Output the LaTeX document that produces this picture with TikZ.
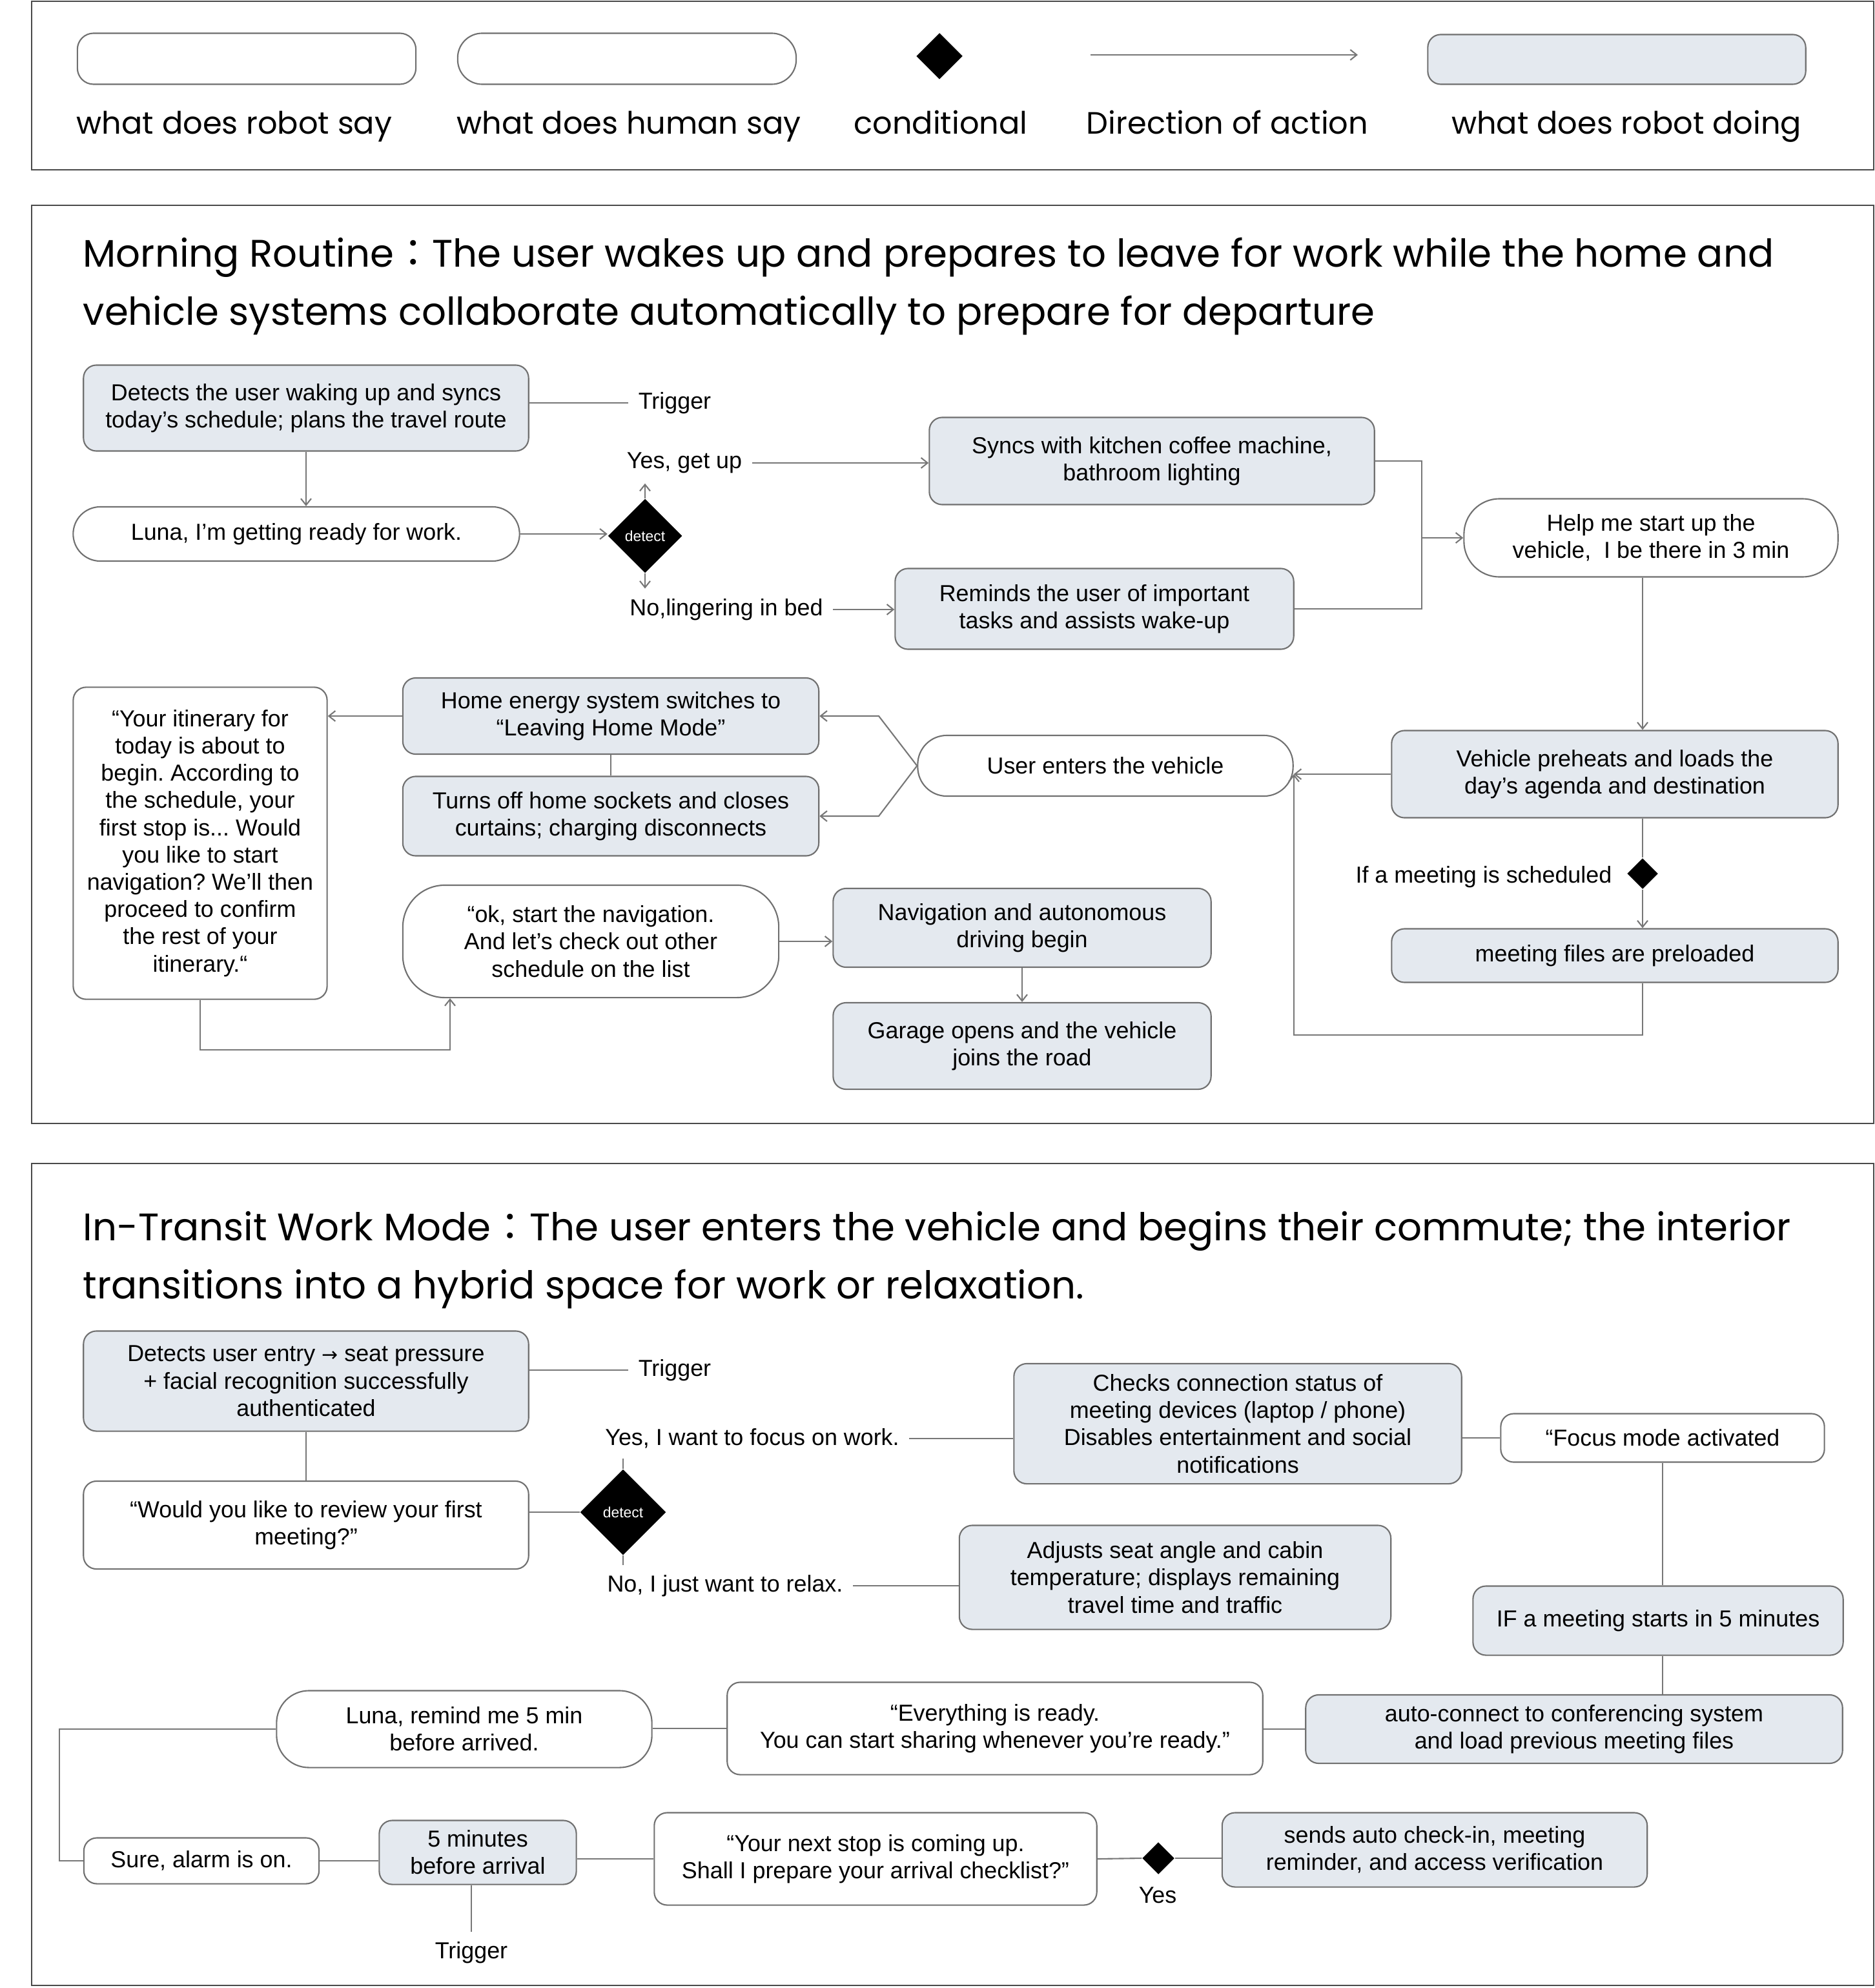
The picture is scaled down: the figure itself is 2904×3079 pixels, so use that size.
\documentclass[tikz,border=0pt]{standalone}
\usepackage{fontspec}
\setmainfont{Liberation Sans}
\newfontfamily\poppins{Poppins}
\newfontfamily\cjk{Noto Sans CJK TC}
\newfontfamily\dejavu{DejaVu Sans}
\usepackage{xcolor}
\usetikzlibrary{arrows.meta,positioning,shapes.geometric,calc}
\definecolor{linecol}{HTML}{777777}
\definecolor{boxline}{HTML}{707070}
\definecolor{doingfill}{HTML}{E4E9EF}
\definecolor{panelcol}{HTML}{4A4A4A}
\frenchspacing

\begin{document}
\begin{tikzpicture}[x=0.01cm, y=-0.01cm,
    bodyfont/.style={font=\fontsize{10.2}{12}\selectfont},
    sz/.style 2 args={minimum width=#1cm, minimum height=#2cm},
    robotsay/.style={rectangle, draw=boxline, fill=white, line width=0.6pt,
                     rounded corners=0.2cm, align=center, inner sep=0pt, bodyfont},
    humansay/.style={rectangle, draw=boxline, fill=white, line width=0.6pt,
                     rounded corners=#1, align=center, inner sep=0pt, bodyfont},
    humansay/.default=0.5cm,
    doing/.style={rectangle, draw=boxline, fill=doingfill, line width=0.6pt,
                  rounded corners=0.2cm, align=center, inner sep=0pt, bodyfont},
    cond/.style={diamond, fill=black, inner sep=0pt, minimum width=#1, minimum height=#1},
    detecttxt/.style={text=white, font=\fontsize{6.5}{7}\selectfont},
    lbl/.style={inner sep=0.15cm, bodyfont},
    legendtxt/.style={anchor=base, font=\poppins\fontsize{13.6}{16}\selectfont},
    heading/.style={anchor=west, align=left, inner sep=0pt,
                    font=\poppins\fontsize{16.9}{25.6}\selectfont},
    panel/.style={draw=panelcol, line width=0.8pt},
    link/.style={draw=linecol, line width=0.6pt},
    arr/.style={link, -{Straight Barb[length=1mm, width=1.6mm]}}
]
    \useasboundingbox (0,0) rectangle (2904,3079);

    % Legend
    \draw[panel] (49,2) rectangle (2902,263);
    \node[robotsay, sz={5.24}{0.79}, rounded corners=0.25cm] (lgRobot) at (382,91) {};
    \node[humansay=0.38cm, sz={5.24}{0.79}] (lgHuman) at (971,91) {};
    \node[cond=0.72cm] (lgCond) at (1455,87) {};
    \coordinate (lgA) at (1689,85);
    \coordinate (lgB) at (2103,85);
    \draw[arr] (lgA) -- (lgB);
    \node[doing, sz={5.85}{0.77}] (lgDoing) at (2504,92) {};
    \node[legendtxt] (lgRobotTxt) at (363,208) {what does robot say};
    \node[legendtxt] (lgHumanTxt) at (974,208) {what does human say};
    \node[legendtxt] (lgCondTxt) at (1457,208) {conditional};
    \node[legendtxt] (lgArrTxt) at (1901,208) {Direction of action};
    \node[legendtxt] (lgDoingTxt) at (2519,208) {what does robot doing};

    % Morning routine
    \draw[panel] (49,318) rectangle (2902,1740);
    \node[heading] (titleA) at (128,444) {Morning Routine{\cjk ：}The user wakes up and prepares to leave for work while the home and\\vehicle systems collaborate automatically to prepare for departure};

    \node[doing, sz={6.89}{1.33}] (wake) at (474,632) {Detects the user waking up and syncs\\today’s schedule; plans the travel route};
    \node[lbl] (trigA) at (1045,624) {Trigger};
    \draw[link] (wake.east |- trigA) -- (trigA.west);
    \node[humansay=0.42cm, sz={6.91}{0.84}] (ready) at (459,827) {Luna, I’m getting ready for work.};
    \draw[arr] (wake.south) -- (wake.south |- ready.north);
    \node[cond=1.15cm, label={[detecttxt]center:detect}] (detA) at (999,830) {};
    \draw[arr] (ready.east) -- (ready.east -| detA.west);

    \node[lbl] (getup) at (1060,717) {Yes, get up};
    \draw[arr] (detA.north) -- (detA.north |- getup.south);
    \node[doing, sz={6.89}{1.35}] (coffee) at (1784,714) {Syncs with kitchen coffee machine,\\bathroom lighting};
    \draw[arr] (getup.east) -- (getup.east -| coffee.west);
    \node[lbl] (linger) at (1125,944) {No,lingering in bed};
    \draw[arr] (detA.south) -- (detA.south |- linger.north);
    \node[doing, sz={6.17}{1.25}] (wakeup) at (1695,943) {Reminds the user of important\\tasks and assists wake-up};
    \draw[arr] (linger.east) -- (linger.east -| wakeup.west);

    \node[humansay=0.55cm, sz={5.79}{1.21}] (startcar) at (2557,833) {Help me start up the\\vehicle,\ \ I be there in 3 min};
    \coordinate (join) at (2202,833);
    \draw[link] (coffee.east) -| (join) |- (wakeup.east);
    \draw[arr] (join) -- (startcar.west);

    \node[cond=0.48cm] (meetchk) at (2544,1353) {};
    \node[doing, sz={6.91}{1.35}] (preheat) at (2501,1199) {Vehicle preheats and loads the\\day’s agenda and destination};
    \draw[arr] (startcar.south -| meetchk) -- (preheat.north -| meetchk);
    \node[lbl, anchor=east] (ifmeet) at (2512,1358) {If a meeting is scheduled};
    \draw[link] (preheat.south -| meetchk) -- (meetchk.north);
    \node[doing, sz={6.91}{0.83}] (preload) at (2501,1480) {meeting files are preloaded};
    \draw[arr] (meetchk.south) -- (preload.north -| meetchk);

    \node[humansay=0.45cm, sz={5.81}{0.94}] (enter) at (1712,1186) {User enters the vehicle};
    \draw[arr] (preheat.west) -- (preheat.west -| enter.east);
    \coordinate (back) at (2004,1603);
    \draw[arr] (preload.south -| meetchk) |- (back) -- (back |- preheat.west);

    \node[doing, sz={6.44}{1.18}] (leave) at (946,1109) {Home energy system switches to\\“Leaving Home Mode”};
    \node[doing, sz={6.44}{1.23}] (sockets) at (946,1264) {Turns off home sockets and closes\\curtains; charging disconnects};
    \draw[link] (leave.south) -- (sockets.north);
    \coordinate (fork) at (1361,1186);
    \draw[arr] (enter.west) -- (fork |- leave.east) -- (leave.east);
    \draw[arr] (enter.west) -- (fork |- sockets.east) -- (sockets.east);

    \node[robotsay, sz={3.93}{4.83}] (itinerary) at (310,1306) {“Your itinerary for\\today is about to\\begin. According to\\the schedule, your\\first stop is... Would\\you like to start\\navigation? We'll then\\proceed to confirm\\the rest of your\\itinerary.“};
    \draw[arr] (leave.west) -- (leave.west -| itinerary.east);
    \node[humansay=0.65cm, sz={5.82}{1.74}] (okgo) at (915,1458) {“ok, start the navigation.\\And let’s check out other\\schedule on the list};
    \coordinate (under) at (697,1626);
    \draw[arr] (itinerary.south) |- (under) -- (under |- okgo.south);
    \node[doing, sz={5.85}{1.22}] (navi) at (1583,1437) {Navigation and autonomous\\driving begin};
    \draw[arr] (okgo.east) -- (okgo.east -| navi.west);
    \node[doing, sz={5.85}{1.34}] (garage) at (1583,1620) {Garage opens and the vehicle\\joins the road};
    \draw[arr] (navi.south) -- (garage.north);

    % In-transit work mode
    \draw[panel] (49,1802) rectangle (2902,3075);
    \node[heading] (titleB) at (128,1952) {In-Transit Work Mode{\cjk ：}The user enters the vehicle and begins their commute; the interior\\transitions into a hybrid space for work or relaxation.};

    \node[doing, sz={6.89}{1.55}] (entry) at (474,2139) {Detects user entry {\dejavu\fontsize{8.5}{9}\selectfont →} seat pressure\\+ facial recognition successfully\\authenticated};
    \node[lbl] (trigB) at (1045,2122) {Trigger};
    \draw[link] (entry.east |- trigB) -- (trigB.west);
    \node[robotsay, sz={6.89}{1.36}] (review) at (474,2362) {“Would you like to review your first\\meeting?”};
    \draw[link] (entry.south) -- (review.north);
    \node[cond=1.33cm, label={[detecttxt]center:detect}] (detB) at (965,2342) {};
    \draw[link] (review.east |- detB) -- (detB.west);

    \node[lbl] (focuswork) at (1165,2228) {Yes, I want to focus on work.};
    \draw[link] (detB.north) -- (detB.north |- focuswork.south);
    \node[lbl] (relax) at (1123,2456) {No, I just want to relax.};
    \draw[link] (detB.south) -- (detB.south |- relax.north);
    \node[doing, sz={6.93}{1.86}] (devices) at (1917,2205) {Checks connection status of\\meeting devices (laptop / phone)\\Disables entertainment and social\\notifications};
    \draw[link] (focuswork.east) -- (focuswork.east -| devices.west);
    \node[doing, sz={6.68}{1.61}] (cabin) at (1820,2443) {Adjusts seat angle and cabin\\temperature; displays remaining\\travel time and traffic};
    \draw[link] (relax.east) -- (relax.east -| cabin.west);

    \node[robotsay, sz={5.01}{0.75}] (focusmode) at (2575,2227) {“Focus mode activated};
    \draw[link] (devices.east |- focusmode) -- (focusmode.west);
    \node[doing, sz={5.73}{1.07}] (soon) at (2568,2510) {IF a meeting starts in 5 minutes};
    \draw[link] (focusmode.south) -- (focusmode.south |- soon.north);
    \node[doing, sz={8.31}{1.06}] (conf) at (2438,2678) {auto-connect to conferencing system\\and load previous meeting files};
    \draw[link] (soon.south -| focusmode) -- (conf.north -| focusmode);
    \node[robotsay, sz={8.29}{1.43}] (allready) at (1541,2677) {“Everything is ready.\\You can start sharing whenever you’re ready.”};
    \draw[link] (conf.west) -- (conf.west -| allready.east);
    \node[humansay=0.5cm, sz={5.81}{1.19}] (remindme) at (719,2678) {Luna, remind me 5 min\\before arrived.};
    \draw[link] (allready.west) -- (allready.west -| remindme.east);

    \node[robotsay, sz={3.64}{0.71}] (alarm) at (312,2882) {Sure, alarm is on.};
    \coordinate (side) at (92,2882);
    \draw[link] (remindme.west) -| (side) -- (alarm.west);
    \node[doing, sz={3.05}{0.99}] (arrival) at (740,2869) {5 minutes\\before arrival};
    \draw[link] (alarm.east) -- (alarm.east -| arrival.west);
    \node[lbl] (trigC) at (730,3024) {Trigger};
    \draw[link] (arrival.south -| trigC) -- (trigC.north);
    \node[robotsay, sz={6.85}{1.43}] (nextstop) at (1356,2879) {“Your next stop is coming up.\\Shall I prepare your arrival checklist?”};
    \draw[link] (arrival.east |- nextstop) -- (nextstop.west);
    \node[cond=0.5cm] (detC) at (1794,2878) {};
    \node[lbl] (yesC) at (1793,2935) {Yes};
    \node[doing, sz={6.58}{1.15}] (checkin) at (2222,2865) {sends auto check-in, meeting\\reminder, and access verification};
    \draw[link] (nextstop.east) -- (detC.west);
    \draw[link] (detC.east) -- (detC.east -| checkin.west);
\end{tikzpicture}
\end{document}
